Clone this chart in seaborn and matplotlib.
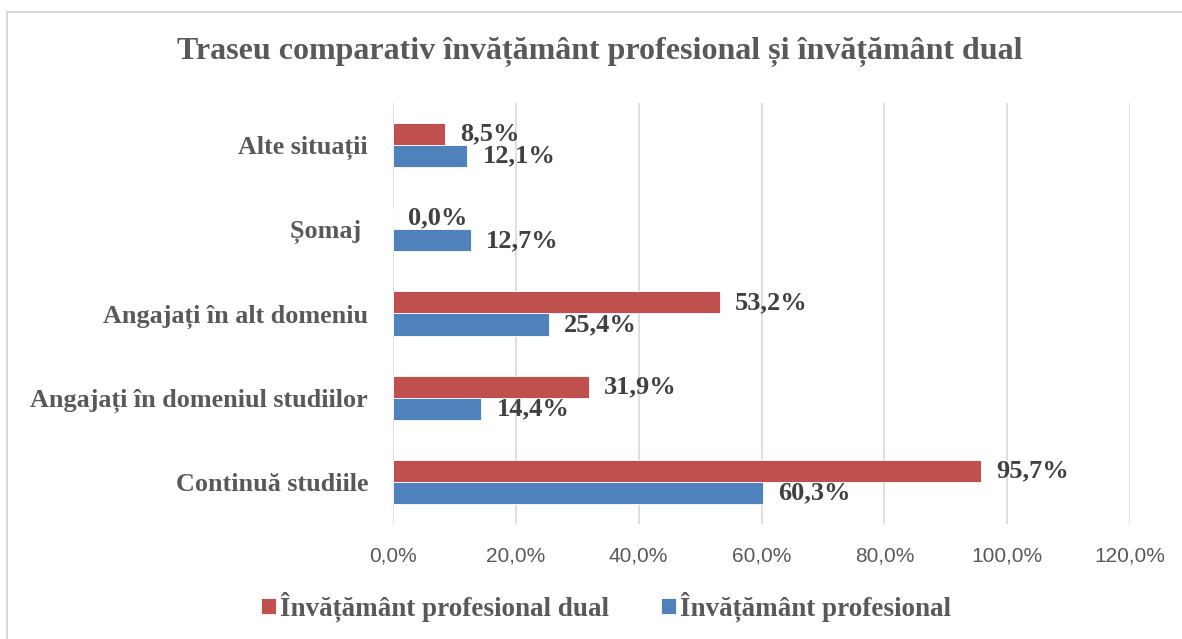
import pandas as pd
import matplotlib.pyplot as plt
import seaborn as sns
from matplotlib.patches import Rectangle

categories = ["Alte situații", "Șomaj ", "Angajați în alt domeniu",
              "Angajați în domeniul studiilor", "Continuă studiile"]
dual_vals = [8.5, 0.0, 53.2, 31.9, 95.7]
prof_vals = [12.1, 12.7, 25.4, 14.4, 60.3]
series = ["Învățământ profesional dual", "Învățământ profesional"]
x_ticks = [0, 20, 40, 60, 80, 100, 120]

df = pd.DataFrame({
    "cat": categories * 2,
    "val": dual_vals + prof_vals,
    "serie": [series[0]] * len(categories) + [series[1]] * len(categories),
})

sns.set_style("white")
serif = ["Liberation Serif", "DejaVu Serif"]

fig = plt.figure(figsize=(11.82, 6.39), dpi=100)
ax = fig.add_axes([393 / 1182, 1 - 524 / 639, (1130 - 393) / 1182, 421 / 639])

sns.barplot(ax=ax, data=df, x="val", y="cat", hue="serie", hue_order=series,
            order=categories, orient="h", width=0.524, dodge=True,
            palette=["#C0504D", "#4F81BD"], saturation=1,
            edgecolor="white", linewidth=0.6, legend=True)

ax.set_xlim(0, 120)
ax.set_ylim(4.5, -0.5)
ax.set_xticks(x_ticks)
ax.set_xticklabels(["{:.1f}%".format(t).replace(".", ",") for t in x_ticks],
                   family=["Liberation Sans"], fontsize=15, color="#595959")
ax.set_yticks(range(len(categories)))
ax.set_yticklabels(categories, family=serif, fontsize=18.8, fontweight="bold",
                   color="#595959")
ax.tick_params(axis="x", length=0, pad=16)
ax.tick_params(axis="y", length=0, pad=18)
ax.set_xlabel("")
ax.set_ylabel("")
ax.grid(axis="x", color="#D9D9D9", linewidth=1.2)
ax.set_axisbelow(True)
for s in ax.spines.values():
    s.set_visible(False)

for cont in ax.containers:
    labels = ["{:.1f}%".format(b.get_width()).replace(".", ",") for b in cont]
    ax.bar_label(cont, labels=labels, padding=11, family=serif, fontsize=19,
                 fontweight="bold", color="#404040")

handles, labs = ax.get_legend_handles_labels()
ax.legend_.remove()
fig.legend(handles, labs, loc="center", bbox_to_anchor=(606 / 1182, 1 - 607 / 639),
           ncol=2, frameon=False, handlelength=0.55, handleheight=0.55,
           handletextpad=0.15, columnspacing=1.9,
           prop={"family": serif, "size": 19.5, "weight": "bold"},
           labelcolor="#595959")

fig.text(600 / 1182, 1 - 52 / 639, "Traseu comparativ învățământ profesional și învățământ dual",
         ha="center", va="center", family=serif, fontsize=23, fontweight="bold",
         color="#595959")

fig.patches.append(Rectangle((7 / 1182, -0.1), 1.2, 1 - 12 / 639 + 0.1,
                             transform=fig.transFigure, fill=False,
                             ec="#D9D9D9", lw=1.5))

plt.savefig("out.png", dpi=100)
